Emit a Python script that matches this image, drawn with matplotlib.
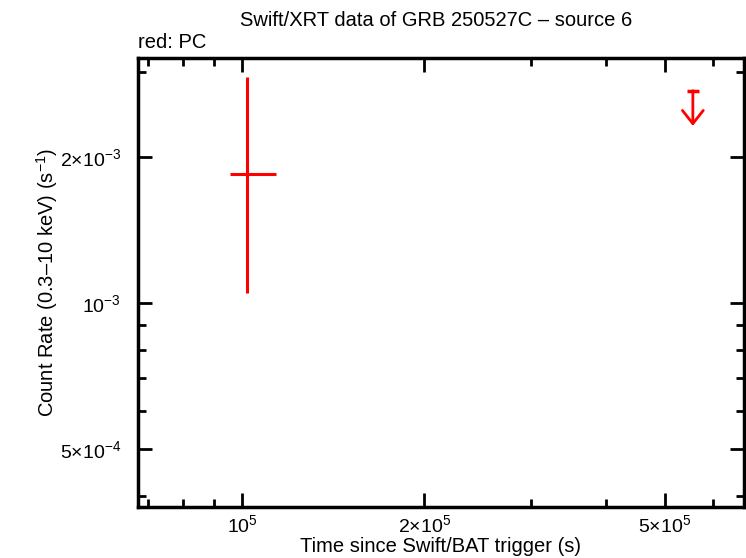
import matplotlib
matplotlib.use("Agg")
import matplotlib.pyplot as plt
from matplotlib.ticker import FixedLocator, NullFormatter

plt.rcParams['font.family'] = ['Liberation Sans', 'DejaVu Sans']
plt.rcParams['mathtext.fontset'] = 'custom'
plt.rcParams['mathtext.rm'] = 'Liberation Sans'
plt.rcParams['mathtext.it'] = 'Liberation Sans:italic'
plt.rcParams['mathtext.bf'] = 'Liberation Sans:bold'

# PC mode detection
pc_t = [1.019e5]
pc_t_lo = [0.955e5]
pc_t_hi = [1.138e5]
pc_rate = [1.845e-3]
pc_rate_lo = [1.048e-3]
pc_rate_hi = [2.92e-3]

# PC mode upper limit
ul_t = [5.56e5]
ul_rate = [2.74e-3]

xlim = (6.73e4, 6.755e5)
ylim = (3.80e-4, 3.2e-3)

xticks = [1e5, 2e5, 5e5]
xticklabels = [r'$10^{5}$', r'$2{\times}10^{5}$', r'$5{\times}10^{5}$']
yticks = [5e-4, 1e-3, 2e-3]
yticklabels = [r'$5{\times}10^{-4}$', r'$10^{-3}$', r'$2{\times}10^{-3}$']

fig = plt.figure(figsize=(7.46, 5.58), dpi=100)
ax = fig.add_axes([138/746, 1 - 507/558, (744-138)/746, (507-58)/558])
ax.set_xscale('log')
ax.set_yscale('log')

red = '#ff0000'
xerr = [[pc_t[i] - pc_t_lo[i] for i in range(len(pc_t))],
        [pc_t_hi[i] - pc_t[i] for i in range(len(pc_t))]]
yerr = [[pc_rate[i] - pc_rate_lo[i] for i in range(len(pc_t))],
        [pc_rate_hi[i] - pc_rate[i] for i in range(len(pc_t))]]
ax.errorbar(pc_t, pc_rate, xerr=xerr, yerr=yerr, fmt='none', ecolor=red,
            elinewidth=2.2, capsize=0)

# upper limit: cap + downward arrow
for t, r in zip(ul_t, ul_rate):
    ax.annotate('', xy=(t, r * 10**(-0.0725)), xytext=(t, r),
                arrowprops=dict(arrowstyle='->,head_length=0.95,head_width=0.75',
                                color=red, lw=2.0, shrinkA=0, shrinkB=0))
    ax.plot([t], [r], marker='_', markersize=8, mew=2.5, color=red)

ax.set_xlim(*xlim)
ax.set_ylim(*ylim)

ax.xaxis.set_major_locator(FixedLocator(xticks))
ax.set_xticklabels(xticklabels)
ax.xaxis.set_minor_locator(FixedLocator([7e4, 8e4, 9e4, 3e5, 4e5, 6e5]))
ax.xaxis.set_minor_formatter(NullFormatter())
ax.yaxis.set_major_locator(FixedLocator(yticks))
ax.set_yticklabels(yticklabels)
ax.yaxis.set_minor_locator(FixedLocator([4e-4, 6e-4, 7e-4, 8e-4, 9e-4, 3e-3]))
ax.yaxis.set_minor_formatter(NullFormatter())

ax.tick_params(which='both', direction='in', top=True, right=True, width=2,
               labelsize=14, colors='black')
ax.tick_params(which='major', length=10)
ax.tick_params(axis='y', which='major', pad=12)
ax.tick_params(axis='x', which='major', pad=5)
ax.tick_params(which='minor', length=6)
for s in ax.spines.values():
    s.set_linewidth(2.5)

ax.set_xlabel('Time since Swift/BAT trigger (s)', fontsize=14.5, labelpad=1)
ax.set_ylabel('Count Rate (0.3\u201310 keV) (s$^{-1}$)', fontsize=14.5, labelpad=0)
fig.text(436/746, 1 - 20/558, 'Swift/XRT data of GRB 250527C \u2013 source 6',
         ha='center', va='center', fontsize=14.5)
fig.text(138/746, 1 - 43/558, 'red: PC', ha='left', va='center', fontsize=14.5)

fig.savefig('out.png', dpi=100)
